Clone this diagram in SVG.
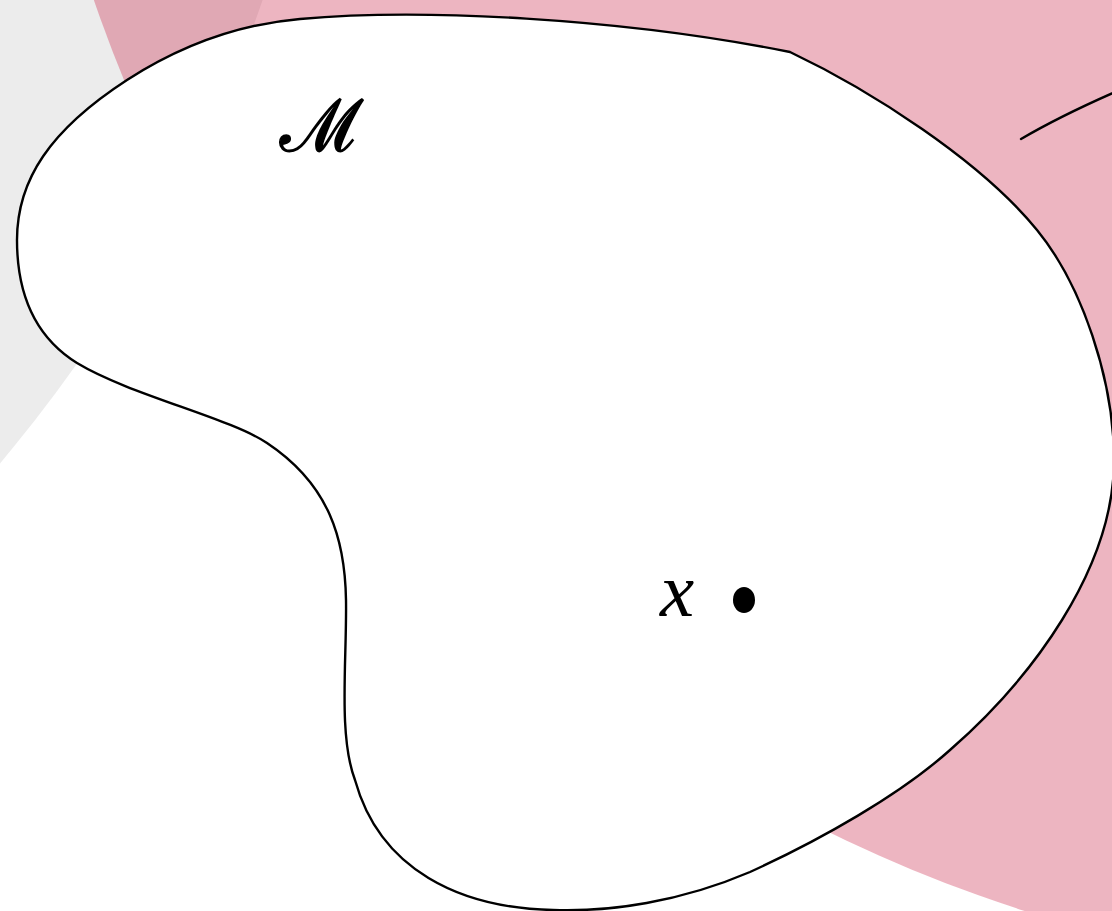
<svg xmlns="http://www.w3.org/2000/svg" width="1112" height="911" viewBox="0 0 1112 911">
  <style>
    .outline { fill: none; stroke: #000; stroke-width: 2.4; stroke-linejoin: round; stroke-linecap: round; }
    .label { font-family: "Liberation Serif", "DejaVu Serif", serif; fill: #000; }
  </style>
  <rect x="0" y="0" width="1112" height="911" fill="#ffffff"/>
  <g id="regions">
    <circle id="gray-region" cx="-1107" cy="-470" r="1448" fill="#ececec"/>
    <circle id="pink-region" cx="1467" cy="-472" r="1452" fill="rgb(199,24,61)" fill-opacity="0.32"/>
  </g>
  <g id="manifold">
    <path d="M300,19 C420,8 620,18 790,52 C870,90 980,160 1037,230 C1082,285 1114,380 1114,460 C1114,570 1030,680 950,750 C900,795 820,840 750,872 C680,902 610,912 553,910 C460,908 380,870 355,780 C338,735 347,660 346,600 C345,540 330,485 267,443 C230,418 130,395 77,363 C40,340 17,300 17,240 C17,180 50,130 127,80 C172,51 230,25 300,19 Z" fill="#ffffff" stroke="#000" stroke-width="2.4" stroke-linejoin="miter"/>
    <text class="label" x="280" y="151" font-size="72" font-family="DejaVu Serif, serif" stroke="#000" stroke-width="1.6">ℳ</text>
  </g>
  <g id="point-x">
    <text class="label" x="660" y="616" font-size="77" font-style="italic">x</text>
    <ellipse cx="744" cy="600" rx="11" ry="13" fill="#000"/>
  </g>
  <g id="connectors">
    <path class="outline" d="M1021,139 Q1062,115 1122,89"/>
  </g>
</svg>
